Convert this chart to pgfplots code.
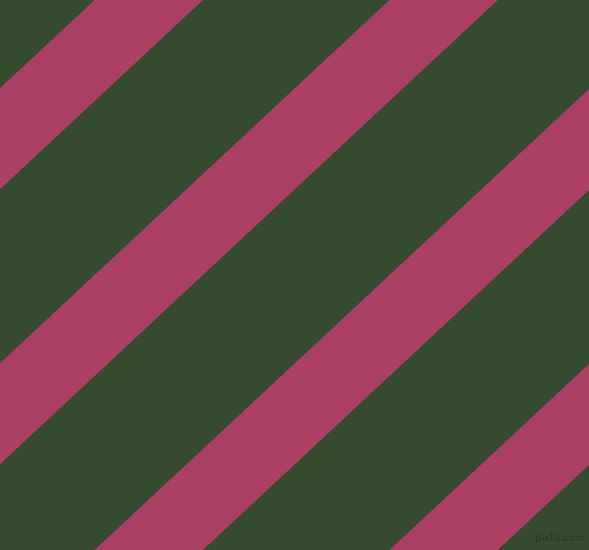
\documentclass[border=0pt]{standalone}
\usepackage{pgfplots}
\pgfplotsset{compat=1.18}
\usepackage{fontspec}
\setmainfont{DejaVu Sans}
\definecolor{bgGreen}{RGB}{54,74,47}
\definecolor{stripePink}{RGB}{170,64,100}
\definecolor{markGreen}{RGB}{38,52,34}
\begin{document}
\begin{tikzpicture}
\begin{axis}[
    scale only axis,
    width=5.89in,
    height=5.5in,
    xmin=0, xmax=589,
    ymin=0, ymax=550,
    y dir=reverse,
    hide axis,
    clip=true
]
% background
\addplot[fill=bgGreen, draw=none] coordinates {
    (0,0) (589,0) (589,550) (0,550)
} \closedcycle;
% diagonal stripes (edges x + 1.0724 y = c)
\addplot[fill=stripePink, draw=none] coordinates {
    (94.7,0) (202.9,0) (0,189.2) (0,88.3) (94.7,0)
};
\addplot[fill=stripePink, draw=none] coordinates {
    (389.6,0) (497.7,0) (0,464.1) (0,363.3) (389.6,0)
};
\addplot[fill=stripePink, draw=none] coordinates {
    (589,89.1) (589,189.9) (202.8,550) (94.7,550) (589,89.1)
};
\addplot[fill=stripePink, draw=none] coordinates {
    (589,364.0) (589,464.8) (497.7,550) (389.6,550) (589,364.0)
};
\node[text=markGreen, font=\fontsize{7}{8}\selectfont, inner sep=0pt]
    at (axis cs:560,539) {pixlis.com};
\end{axis}
\end{tikzpicture}
\end{document}
